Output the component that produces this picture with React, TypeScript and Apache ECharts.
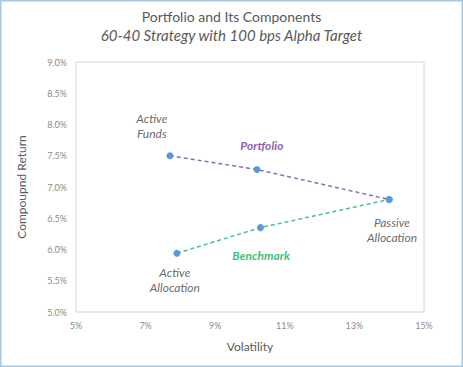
import React, { useEffect, useRef } from "react";
import * as echarts from "echarts";

const titleText = "Portfolio and Its Components";
const subtitleText = "60-40 Strategy with 100 bps Alpha Target";
const xAxisName = "Volatility";
const yAxisName = "Compoupnd Return";

// [volatility %, compound return %]
const portfolioPoints: [number, number][] = [
  [7.7, 7.5],
  [10.2, 7.28],
  [14.0, 6.8],
];
const benchmarkPoints: [number, number][] = [
  [7.9, 5.94],
  [10.3, 6.35],
  [14.0, 6.8],
];

const annotationTexts = ["Active\nFunds", "Portfolio", "Passive\nAllocation", "Benchmark", "Active\nAllocation"];
const annotationPositions: [number, number][] = [
  [7.18, 7.98],
  [10.34, 7.67],
  [14.08, 6.32],
  [10.32, 5.9],
  [7.84, 5.52],
];
const annotationStyles = ["plain", "portfolio", "plain", "benchmark", "plain"];

const FONT = "Lato, 'Open Sans', sans-serif";

export default function App() {
  const ref = useRef<HTMLDivElement>(null);
  useEffect(() => {
    if (!ref.current) return;
    const chart = echarts.init(ref.current, null, { renderer: "svg" });
    const rich: any = {
      plain: { fontSize: 12, fontStyle: "italic", color: "#404040", fontFamily: FONT, lineHeight: 15, align: "center" },
      portfolio: { fontSize: 12, fontStyle: "italic", fontWeight: "bold", color: "#7030a0", fontFamily: FONT, align: "center" },
      benchmark: { fontSize: 12, fontStyle: "italic", fontWeight: "bold", color: "#00b050", fontFamily: FONT, align: "center" },
    };
    chart.setOption({
      animation: false,
      backgroundColor: "#ffffff",
      textStyle: { fontFamily: FONT },
      title: {
        text: titleText,
        subtext: subtitleText,
        left: "center",
        top: 4,
        itemGap: 4,
        textStyle: { fontSize: 14, fontWeight: "normal", color: "#595959", fontFamily: FONT },
        subtextStyle: { fontSize: 15, fontStyle: "italic", color: "#595959", fontFamily: FONT },
      },
      graphic: [
        {
          type: "rect",
          shape: { x: 0.75, y: 0.75, width: 461.5, height: 365.5 },
          style: { fill: "none", stroke: "#a9c8e0", lineWidth: 1.5 },
          silent: true,
          z: 100,
        },
      ],
      grid: {
        left: 76,
        right: 39,
        top: 62,
        bottom: 55,
        show: true,
        borderColor: "#ccd6e0",
        borderWidth: 1,
      },
      xAxis: {
        type: "value",
        min: 5,
        max: 15,
        interval: 2,
        name: xAxisName,
        nameLocation: "middle",
        nameGap: 28,
        nameTextStyle: { fontSize: 12, color: "#595959", fontFamily: FONT },
        axisLine: { show: false },
        axisTick: { show: false },
        splitLine: { show: false },
        axisLabel: { fontSize: 9, color: "#8a8a8a", margin: 9, formatter: (v: number) => v + "%", fontFamily: FONT },
      },
      yAxis: {
        type: "value",
        min: 5,
        max: 9,
        interval: 0.5,
        name: yAxisName,
        nameLocation: "middle",
        nameGap: 49,
        nameTextStyle: { fontSize: 12, color: "#595959", fontFamily: FONT },
        axisLine: { show: false },
        axisTick: { show: false },
        splitLine: { show: false },
        axisLabel: { fontSize: 9, color: "#8a8a8a", margin: 9, formatter: (v: number) => v.toFixed(1) + "%", fontFamily: FONT },
      },
      series: [
        {
          name: "Portfolio",
          type: "line",
          data: portfolioPoints,
          symbol: "circle",
          symbolSize: 7,
          itemStyle: { color: "#5b9bd5" },
          lineStyle: { color: "#8a6fb0", width: 1.5, type: [4, 3] },
          z: 3,
        },
        {
          name: "Benchmark",
          type: "line",
          data: benchmarkPoints,
          symbol: "circle",
          symbolSize: 7,
          itemStyle: { color: "#5b9bd5" },
          lineStyle: { color: "#4dbb98", width: 1.5, type: [4, 3] },
          z: 2,
        },
        {
          name: "Annotations",
          type: "scatter",
          symbolSize: 0,
          silent: true,
          data: annotationPositions.map((p, i) => ({
            value: p,
            label: {
              show: true,
              position: "inside",
              formatter: annotationTexts[i]
                .split("\n")
                .map((line) => `{${annotationStyles[i]}|${line}}`)
                .join("\n"),
              rich,
            },
          })),
        },
      ],
    });
    return () => chart.dispose();
  }, []);
  return <div ref={ref} style={{ position: "fixed", left: 0, top: 0, width: 463, height: 367 }} />;
}
